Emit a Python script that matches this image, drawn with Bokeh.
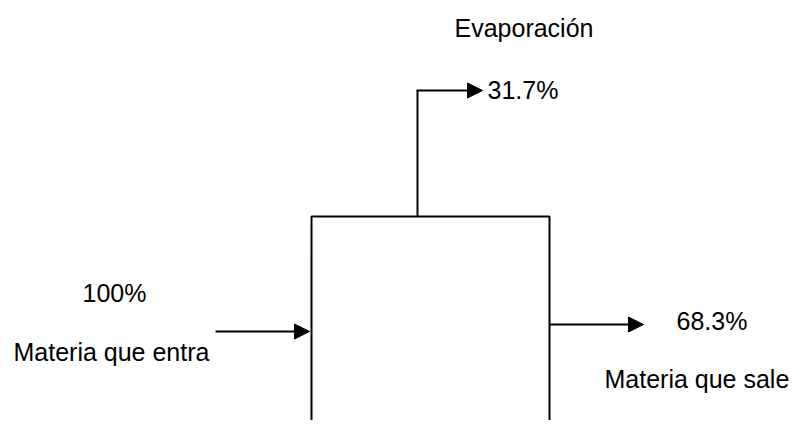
from bokeh.plotting import figure
from bokeh.models import Range1d, Arrow, NormalHead, ColumnDataSource
from bokeh.core.properties import value
from bokeh.embed import file_html
from bokeh.resources import INLINE

# Data
flow_labels = ["Materia que entra", "Evaporación", "Materia que sale"]
flow_percents = [100, 31.7, 68.3]

W, H = 790, 420
p = figure(width=W, height=H, output_backend="svg", toolbar_location=None,
           x_range=Range1d(0, W), y_range=Range1d(H, 0),
           min_border=0, outline_line_color=None)
p.axis.visible = False
p.grid.visible = False

LW = 2
FONT = value("Liberation Sans")
FS = value("25px")

# Process box (extends past bottom)
bx0, bx1, by0, by1 = 311, 549, 216, 470
p.line([bx0, bx0, bx1, bx1], [by1, by0, by0, by1], line_color="black", line_width=LW)

def arrow(x0, y0, x1, y1):
    p.add_layout(Arrow(end=NormalHead(size=15, fill_color="black", line_color="black", line_width=1),
                       x_start=x0, y_start=y0, x_end=x1, y_end=y1,
                       line_color="black", line_width=LW))

# Input
arrow(215, 331, 309, 331)
# Evaporation
p.line([417, 417], [by0, 90], line_color="black", line_width=LW)
arrow(416, 90, 482, 90)
# Output
arrow(bx1, 324, 643, 324)

def fmt(v):
    return f"{v:g}%"

src = ColumnDataSource(dict(
    x=[13, 454, 604, 82, 487, 676],
    y=[351, 27, 378, 292, 89, 320],
    t=[flow_labels[0], flow_labels[1], flow_labels[2],
       fmt(flow_percents[0]), fmt(flow_percents[1]), fmt(flow_percents[2])],
))
p.text(x="x", y="y", text="t", source=src, text_font=FONT, text_font_size=FS,
       text_color="black", text_align="left", text_baseline="alphabetic")

open("out.html", "w").write(file_html(p, INLINE))
